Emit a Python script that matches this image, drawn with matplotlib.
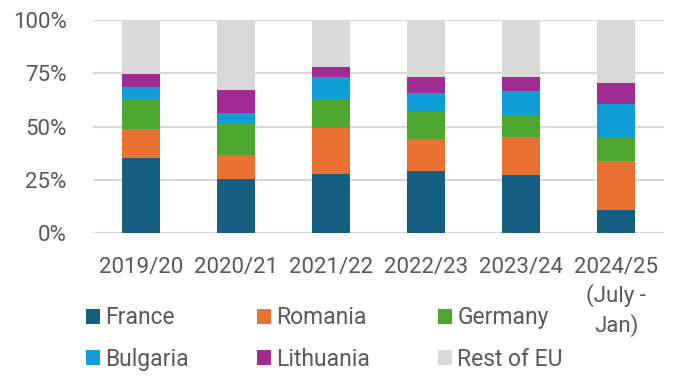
import matplotlib.pyplot as plt
import numpy as np

# --- DATOS (porcentaje de cada país por campaña) ---
campanas = ["2019/20", "2020/21", "2021/22", "2022/23", "2023/24",
            "2024/25\n(July -\nJan)"]
paises = ["France", "Romania", "Germany", "Bulgaria", "Lithuania", "Rest of EU"]

france = [35.1, 25.5, 27.8, 29.2, 27.4, 10.6]
romania = [13.9, 11.0, 21.3, 15.1, 17.7, 23.2]
germany = [13.8, 15.1, 13.2, 12.5, 10.3, 10.9]
bulgaria = [5.9, 4.9, 10.8, 8.8, 11.1, 15.9]
lithuania = [5.9, 10.6, 5.0, 7.8, 6.9, 9.7]
rest_eu = [25.4, 32.9, 21.9, 26.6, 26.6, 29.7]

colores = ["#156082", "#E97132", "#4EA72E", "#0F9ED5", "#A02B93", "#D9D9D9"]

plt.rcParams['font.family'] = ['Roboto', 'DejaVu Sans']

fig = plt.figure(figsize=(6.8, 3.8), dpi=100)
ax = fig.add_axes([0.137, 0.387, 0.839, 0.560])

x = np.arange(len(campanas))
series = [france, romania, germany, bulgaria, lithuania, rest_eu]
base = np.zeros(len(campanas))
handles = []
for nombre, valores, color in zip(paises, series, colores):
    b = ax.bar(x, valores, width=0.4, bottom=base, color=color,
               label=nombre, zorder=3)
    handles.append(b)
    base += np.array(valores)

ax.set_xlim(-0.5, len(campanas) - 0.5)
ax.set_ylim(0, 100)
ax.set_yticks([0, 25, 50, 75, 100])
ax.set_yticklabels(["0%", "25%", "50%", "75%", "100%"])
ax.set_xticks(x)
ax.set_xticklabels(campanas, va='top', linespacing=1.38)

ax.grid(axis='y', color='#D9D9D9', linewidth=1.5, zorder=0)
for s in ax.spines.values():
    s.set_visible(False)
ax.tick_params(axis='y', length=0, pad=19, labelsize=16, labelcolor='#595959')
ax.tick_params(axis='x', length=0, pad=17, labelsize=16, labelcolor='#595959')

# la leyenda se llena por columnas: reordenar para filas France/Romania/Germany
orden = [0, 3, 1, 4, 2, 5]
fig.legend(handles=[handles[i] for i in orden],
           labels=[paises[i] for i in orden], ncol=3, frameon=False,
           loc='upper left', bbox_to_anchor=(0.096, 0.248),
           fontsize=16.5, labelcolor='#595959',
           handlelength=0.6, handleheight=0.6, handletextpad=0.22,
           columnspacing=3.0, labelspacing=0.8)

fig.savefig("out.png", dpi=100)
